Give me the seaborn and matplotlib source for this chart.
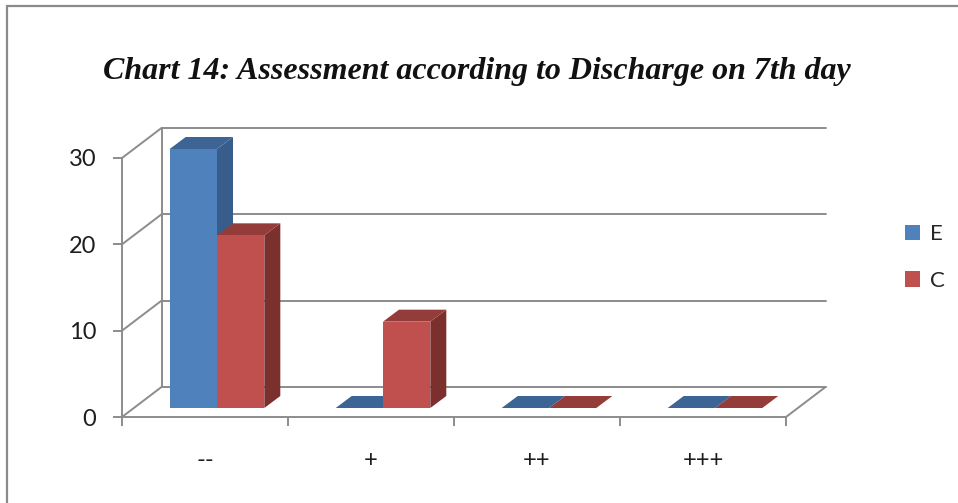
import matplotlib
matplotlib.use("Agg")
import matplotlib.pyplot as plt
import matplotlib.transforms as mtransforms
from matplotlib.patches import Polygon
from matplotlib.lines import Line2D
import seaborn as sns
import pandas as pd

# ---- data -------------------------------------------------------------
categories = ["--", "+", "++", "+++"]
groups = ["E", "C"]
values_E = [30, 0, 0, 0]
values_C = [20, 10, 0, 0]
y_ticks = [0, 10, 20, 30]
title = "Chart 14: Assessment according to Discharge on 7th day"

# ---- style ------------------------------------------------------------
front_colors = {"E": "#4F81BD", "C": "#C0504D"}
side_colors = {"E": "#385D8A", "C": "#7C302E"}
top_colors = {"E": "#3C6494", "C": "#943C39"}
line_col = "#8c8c8c"
line_w = 1.4

sns.set_style("white")
plt.rcParams["font.family"] = ["Lato", "DejaVu Sans"]

W, H = 958, 503
fig = plt.figure(figsize=(W / 100, H / 100), dpi=100)
fig.patch.set_facecolor("white")

# front plane of the 3-D box, in pixels
ax_left, ax_right, ax_bottom, ax_top = 122, 786, 417, 158
ax = fig.add_axes([ax_left / W, (H - ax_bottom) / H,
                   (ax_right - ax_left) / W, (ax_bottom - ax_top) / H])

df = pd.DataFrame({
    "grade": categories * 2,
    "value": values_E + values_C,
    "group": ["E"] * len(categories) + ["C"] * len(categories),
})

sns.barplot(data=df, x="grade", y="value", hue="group", hue_order=groups,
            order=categories, palette=[front_colors[g] for g in groups],
            saturation=1, width=0.57, linewidth=0, errorbar=None, ax=ax)

ax.set_xlim(-0.5, len(categories) - 0.5)
ax.set_ylim(0, 30)

# pixel -> data conversion on the front plane
sx = (len(categories)) / (ax_right - ax_left)
sy = 30 / (ax_bottom - ax_top)

def off(px, py):
    return px * sx, py * sy

wall_dx, wall_dy = off(39.5, 30)     # depth of the whole box
plane_dx, plane_dy = off(12, 9)      # where the bars stand
bar_dx, bar_dy = off(16, 12)         # depth of each bar

# back wall grid + left wall diagonals + floor edge
x_lo, x_hi = -0.5, len(categories) - 0.5
for yv in y_ticks:
    ax.add_line(Line2D([x_lo + wall_dx, x_hi + wall_dx], [yv + wall_dy, yv + wall_dy],
                       color=line_col, lw=line_w, clip_on=False, zorder=1))
    ax.add_line(Line2D([x_lo, x_lo + wall_dx], [yv, yv + wall_dy],
                       color=line_col, lw=line_w, clip_on=False, zorder=1))
ax.add_line(Line2D([x_lo + wall_dx, x_lo + wall_dx], [wall_dy, 30 + wall_dy],
                   color=line_col, lw=line_w, clip_on=False, zorder=1))
ax.add_line(Line2D([x_hi, x_hi + wall_dx], [0, wall_dy],
                   color=line_col, lw=line_w, clip_on=False, zorder=1))

# extrude the seaborn bars into boxes
shift = mtransforms.Affine2D().translate(plane_dx, plane_dy) + ax.transData
for gi, (g, cont) in enumerate(zip(groups, ax.containers)):
    for rect in cont.patches:
        x0 = rect.get_x() + plane_dx
        x1 = x0 + rect.get_width()
        y0 = rect.get_y() + plane_dy
        y1 = y0 + rect.get_height()
        side = Polygon([(x1, y0), (x1, y1), (x1 + bar_dx, y1 + bar_dy), (x1 + bar_dx, y0 + bar_dy)],
                       closed=True, facecolor=side_colors[g], edgecolor="none",
                       clip_on=False, zorder=2 + 2 * gi)
        top = Polygon([(x0, y1), (x1, y1), (x1 + bar_dx, y1 + bar_dy), (x0 + bar_dx, y1 + bar_dy)],
                      closed=True, facecolor=top_colors[g], edgecolor="none",
                      clip_on=False, zorder=2 + 2 * gi)
        ax.add_patch(side)
        ax.add_patch(top)
        rect.set_transform(shift)
        rect.set_clip_on(False)
        rect.set_zorder(2.5 + 2 * gi)

# axes
for s in ["top", "right"]:
    ax.spines[s].set_visible(False)
for s in ["left", "bottom"]:
    ax.spines[s].set_color(line_col)
    ax.spines[s].set_linewidth(line_w)
    ax.spines[s].set_zorder(1)

ax.set_yticks(y_ticks)
ax.set_yticklabels([str(v) for v in y_ticks])
ax.tick_params(axis="y", length=6.5, width=line_w, color=line_col, pad=12,
               labelsize=17, labelcolor="#1e1e1e", direction="out", left=True)
ax.set_xticks(range(len(categories)))
ax.set_xticklabels(categories)
ax.tick_params(axis="x", which="major", length=0, pad=24, labelsize=17, labelcolor="#1e1e1e")
ax.set_xticks([i - 0.5 for i in range(len(categories) + 1)], minor=True)
ax.tick_params(axis="x", which="minor", length=6.5, width=line_w, color=line_col,
               direction="out", bottom=True)
ax.set_xlabel("")
ax.set_ylabel("")
ax.set_facecolor("none")

sns.move_legend(ax, loc="center left", bbox_to_anchor=(905 / W, 1 - 257.5 / H),
                bbox_transform=fig.transFigure, frameon=False, title=None,
                fontsize=16, handlelength=0.68, handleheight=0.68,
                handletextpad=0.45, labelspacing=1.2, borderpad=0, borderaxespad=0)

fig.text(477 / W, 1 - 72 / H, title, ha="center", va="center",
         family=["Liberation Serif", "DejaVu Serif"], style="italic",
         weight="bold", fontsize=23, color="#111111")

# chart-area border (top and left edges)
fig.add_artist(Line2D([7 / W, 1], [1 - 6 / H, 1 - 6 / H], transform=fig.transFigure,
                      color="#8a8a8a", lw=1.6))
fig.add_artist(Line2D([7 / W, 7 / W], [0, 1 - 6 / H], transform=fig.transFigure,
                      color="#8a8a8a", lw=1.6))

fig.savefig("out.png", dpi=100, facecolor="white")
